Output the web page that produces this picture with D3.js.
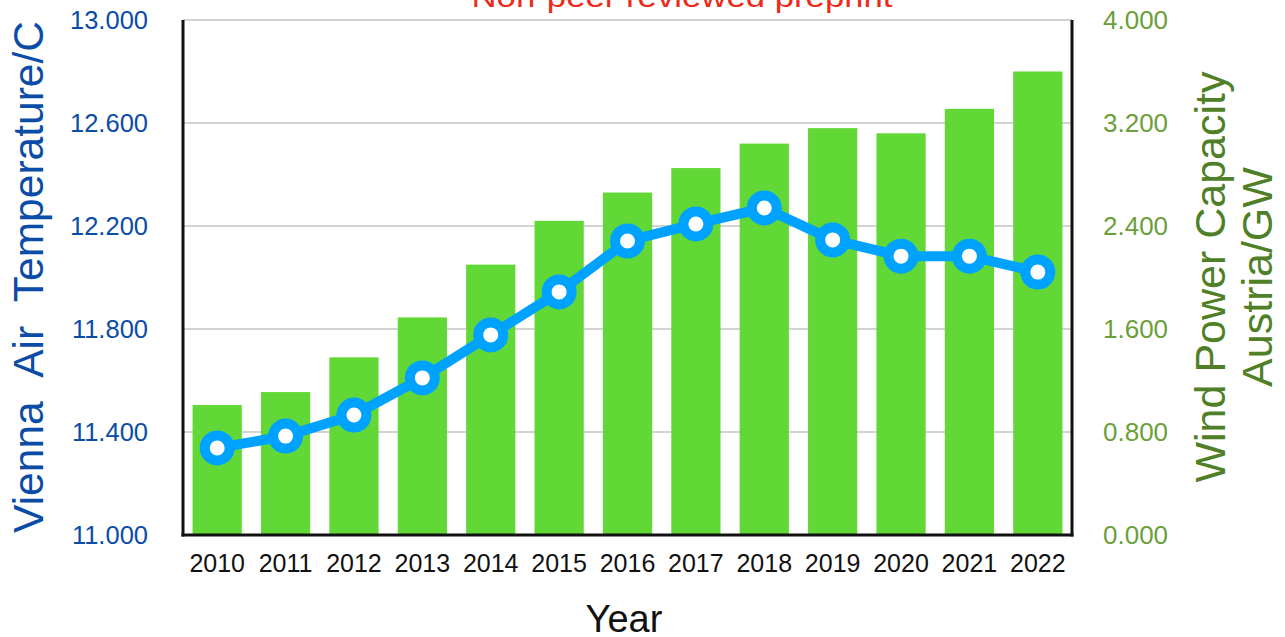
<!DOCTYPE html>
<html>
<head>
<meta charset="utf-8">
<script src="https://cdn.jsdelivr.net/npm/d3@7"></script>
<style>
  html, body { margin: 0; padding: 0; background: #fff; }
  svg { display: block; font-family: "Liberation Sans", Arial, Helvetica, sans-serif; }
</style>
</head>
<body>
<svg id="chart" width="1285" height="637"></svg>
<script>
const years = ["2010","2011","2012","2013","2014","2015","2016","2017","2018","2019","2020","2021","2022"];
const windCapacity = [1.01, 1.11, 1.38, 1.69, 2.10, 2.44, 2.66, 2.85, 3.04, 3.16, 3.12, 3.31, 3.60];
const viennaTemp = [11.338, 11.384, 11.466, 11.610, 11.777, 11.944, 12.142, 12.208, 12.270, 12.146, 12.083, 12.083, 12.021];
const leftTicks = [11.0, 11.4, 11.8, 12.2, 12.6, 13.0];
const rightTicks = [0, 0.8, 1.6, 2.4, 3.2, 4.0];
const titleText = "Non-peer reviewed preprint";
const leftTitle = "Vienna\u00A0\u00A0Air\u00A0\u00A0Temperature/C";
const rightTitle = ["Wind Power Capacity", "Austria/GW"];
const xTitle = "Year";

const svg = d3.select("#chart");
const m = { left: 183, right: 1072, top: 20, bottom: 535 };

const x = d3.scaleBand().domain(years).range([m.left, m.right]).paddingInner(0.28).paddingOuter(0.14);
const yL = d3.scaleLinear().domain([11, 13]).range([m.bottom, m.top]);
const yR = d3.scaleLinear().domain([0, 4]).range([m.bottom, m.top]);

const fmt = d3.format(".3f");

// gridlines
svg.append("g").selectAll("line").data(leftTicks).join("line")
  .attr("x1", m.left).attr("x2", m.right)
  .attr("y1", d => yL(d)).attr("y2", d => yL(d))
  .attr("stroke", "#c4c4c4").attr("stroke-width", 1.5);

// bars
svg.append("g").selectAll("rect").data(years).join("rect")
  .attr("x", d => x(d)).attr("width", x.bandwidth())
  .attr("y", (d, i) => yR(windCapacity[i]))
  .attr("height", (d, i) => yR(0) - yR(windCapacity[i]))
  .attr("fill", "#61D836");

// axes frame
const axisG = svg.append("g");
axisG.append("line").attr("x1", m.left).attr("x2", m.left).attr("y1", m.top).attr("y2", m.bottom + 1.5)
  .attr("stroke", "#111").attr("stroke-width", 3);
axisG.append("line").attr("x1", m.right).attr("x2", m.right).attr("y1", m.top).attr("y2", m.bottom + 1.5)
  .attr("stroke", "#111").attr("stroke-width", 3);
axisG.append("line").attr("x1", m.left - 1.5).attr("x2", m.right + 1.5).attr("y1", m.bottom).attr("y2", m.bottom)
  .attr("stroke", "#111").attr("stroke-width", 3);

// line
const line = d3.line().x((d, i) => x(years[i]) + x.bandwidth() / 2).y(d => yL(d));
svg.append("path").datum(viennaTemp).attr("d", line)
  .attr("fill", "none").attr("stroke", "#00A2FF").attr("stroke-width", 10).attr("stroke-linejoin", "round");
svg.append("g").selectAll("circle").data(viennaTemp).join("circle")
  .attr("cx", (d, i) => x(years[i]) + x.bandwidth() / 2)
  .attr("cy", d => yL(d))
  .attr("r", 12.5)
  .attr("fill", "#fff").attr("stroke", "#00A2FF").attr("stroke-width", 10);

// left tick labels
svg.append("g").selectAll("text").data(leftTicks).join("text")
  .attr("x", 148).attr("y", d => yL(d) + 9)
  .attr("text-anchor", "end").attr("font-size", 25.5).attr("fill", "#0B4CA6")
  .text(d => fmt(d));

// right tick labels
svg.append("g").selectAll("text").data(rightTicks).join("text")
  .attr("x", 1103).attr("y", d => yR(d) + 9)
  .attr("text-anchor", "start").attr("font-size", 26).attr("fill", "#6A9F3A")
  .text(d => fmt(d));

// x tick labels
svg.append("g").selectAll("text").data(years).join("text")
  .attr("x", d => x(d) + x.bandwidth() / 2).attr("y", 572)
  .attr("text-anchor", "middle").attr("font-size", 25).attr("fill", "#111")
  .text(d => d);

// titles
svg.append("text").attr("x", 682).attr("y", 7).attr("text-anchor", "middle")
  .attr("font-size", 30).attr("fill", "#EE2A1B").attr("textLength", 421).attr("lengthAdjust", "spacingAndGlyphs")
  .text(titleText);

svg.append("text").attr("transform", "translate(43,277) rotate(-90)")
  .attr("text-anchor", "middle").attr("font-size", 42.5).attr("fill", "#0B4CA6")
  .text(leftTitle);

svg.append("text").attr("transform", "translate(1225,277) rotate(-90)")
  .attr("text-anchor", "middle").attr("font-size", 43).attr("fill", "#4F7F26")
  .text(rightTitle[0]);
svg.append("text").attr("transform", "translate(1272,277) rotate(-90)")
  .attr("text-anchor", "middle").attr("font-size", 43).attr("fill", "#4F7F26")
  .text(rightTitle[1]);

svg.append("text").attr("x", 624).attr("y", 632).attr("text-anchor", "middle")
  .attr("font-size", 38).attr("fill", "#111")
  .text(xTitle);
</script>
</body>
</html>
